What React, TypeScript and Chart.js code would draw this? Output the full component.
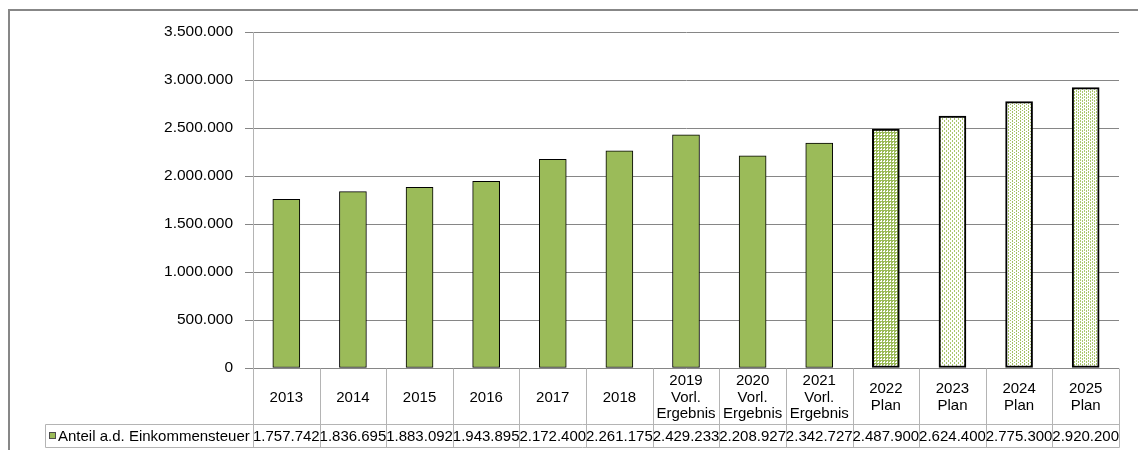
import React, { useEffect, useRef } from 'react';
import { Chart, registerables } from 'chart.js';

Chart.register(...registerables);

// ---- data ----
const categoryLabels: string[][] = [
  ['2013'],
  ['2014'],
  ['2015'],
  ['2016'],
  ['2017'],
  ['2018'],
  ['2019', 'Vorl.', 'Ergebnis'],
  ['2020', 'Vorl.', 'Ergebnis'],
  ['2021', 'Vorl.', 'Ergebnis'],
  ['2022', 'Plan'],
  ['2023', 'Plan'],
  ['2024', 'Plan'],
  ['2025', 'Plan'],
];
const seriesValues: number[] = [
  1757742, 1836695, 1883092, 1943895, 2172400, 2261175, 2429233, 2208927, 2342727,
  2487900, 2624400, 2775300, 2920200,
];
const seriesName = 'Anteil a.d. Einkommensteuer';
const yMin = 0;
const yMax = 3500000;
const yStep = 500000;
const barKinds: string[] = [
  'solid', 'solid', 'solid', 'solid', 'solid', 'solid', 'solid', 'solid', 'solid',
  'p2022', 'p2023', 'p2024', 'p2025',
];

const GREEN = '#9BBB59';
const FONT = 'Liberation Sans, Arial, sans-serif';

function fmt(n: number): string {
  const s = Math.round(n).toString();
  return s.replace(/\B(?=(\d{3})+(?!\d))/g, '.');
}

function makePattern(cells: number[][], w: number, h: number, bg: string, fg: string): CanvasPattern | string {
  const c = document.createElement('canvas');
  c.width = w;
  c.height = h;
  const ctx = c.getContext('2d');
  if (!ctx) return fg;
  ctx.fillStyle = bg;
  ctx.fillRect(0, 0, w, h);
  ctx.fillStyle = fg;
  for (const [x, y] of cells) ctx.fillRect(x, y, 1, 1);
  const p = ctx.createPattern(c, 'repeat');
  return p || fg;
}

const tablePlugin = {
  id: 'dataTable',
  afterDraw(chart: any) {
    const ctx: CanvasRenderingContext2D = chart.ctx;
    const xs = chart.scales.x;
    const area = chart.chartArea;
    const n = categoryLabels.length;
    const w = xs.getPixelForValue(1) - xs.getPixelForValue(0);
    const bounds: number[] = [];
    for (let i = 0; i <= n; i++) bounds.push(Math.round(xs.getPixelForValue(i) - w / 2) + 0.5);
    const top = Math.round(area.bottom) + 0.5;
    const row1Bottom = 424.5;
    const row2Bottom = 447.5;
    const legendLeft = 45.5;

    ctx.save();
    ctx.strokeStyle = '#b4b4b4';
    ctx.lineWidth = 1;
    ctx.beginPath();
    for (const b of bounds) {
      ctx.moveTo(b, top);
      ctx.lineTo(b, row2Bottom);
    }
    ctx.moveTo(legendLeft, row1Bottom);
    ctx.lineTo(bounds[n], row1Bottom);
    ctx.moveTo(legendLeft, row2Bottom);
    ctx.lineTo(bounds[n], row2Bottom);
    ctx.moveTo(legendLeft, row1Bottom);
    ctx.lineTo(legendLeft, row2Bottom);
    ctx.stroke();

    ctx.fillStyle = '#000';
    ctx.font = `15px ${FONT}`;
    ctx.textAlign = 'center';
    ctx.textBaseline = 'middle';
    const lh = 16.5;
    const midY = (top + row1Bottom) / 2;
    for (let i = 0; i < n; i++) {
      const cx = xs.getPixelForValue(i);
      const lines = categoryLabels[i];
      const y0 = midY - ((lines.length - 1) * lh) / 2;
      lines.forEach((l, k) => ctx.fillText(l, cx, y0 + k * lh + 1));
      ctx.fillText(fmt(seriesValues[i]), cx, (row1Bottom + row2Bottom) / 2 + 1);
    }

    // legend key
    ctx.fillStyle = GREEN;
    ctx.fillRect(49, 432, 7, 7);
    ctx.strokeStyle = '#4d4d4d';
    ctx.strokeRect(49.5, 432.5, 6, 6);
    ctx.fillStyle = '#000';
    ctx.textAlign = 'left';
    ctx.fillText(seriesName, 58, (row1Bottom + row2Bottom) / 2 + 1);
    ctx.restore();
  },
};

export default function App() {
  const ref = useRef<HTMLCanvasElement>(null);

  useEffect(() => {
    if (!ref.current) return;
    const patterns: Record<string, CanvasPattern | string> = {
      solid: GREEN,
      p2022: makePattern(
        [[2, 1], [1, 2], [2, 2]],
        3, 3, GREEN, '#ffffff',
      ),
      p2023: makePattern(
        [[0, 0], [0, 1], [2, 2], [2, 3]],
        4, 4, '#ffffff', '#a9c66e',
      ),
      p2024: makePattern(
        [[0, 0], [0, 1], [2, 2]],
        4, 3, '#ffffff', '#a3c264',
      ),
      p2025: makePattern(
        [[0, 0], [0, 1], [2, 1], [2, 2]],
        4, 3, '#ffffff', '#aac86f',
      ),
    };
    const bg = barKinds.map((k) => patterns[k]);
    const bw = barKinds.map((k) => (k === 'solid' ? 1 : 2));

    const chart = new Chart(ref.current, {
      type: 'bar',
      data: {
        labels: categoryLabels.map((l) => l.join(' ')),
        datasets: [
          {
            label: seriesName,
            data: seriesValues,
            backgroundColor: bg as any,
            borderColor: '#000',
            borderWidth: bw,
            borderSkipped: false,
            barThickness: 27,
          },
        ],
      },
      plugins: [tablePlugin],
      options: {
        animation: false,
        responsive: false,
        devicePixelRatio: 1,
        layout: { padding: { left: 0, right: 19, top: 32, bottom: 82 } },
        plugins: { legend: { display: false }, tooltip: { enabled: false } },
        scales: {
          x: { display: false },
          y: {
            min: yMin,
            max: yMax,
            afterFit: (s: any) => {
              s.width = 253;
            },
            ticks: {
              stepSize: yStep,
              padding: 12,
              color: '#000',
              font: { family: FONT, size: 15.5 },
              callback: (v: any) => fmt(Number(v)),
            },
            grid: { color: '#868686', tickLength: 8, drawTicks: true, tickColor: '#868686' },
            border: { display: true, color: '#b4b4b4' },
          },
        },
      },
    });
    return () => chart.destroy();
  }, []);

  return (
    <div style={{ position: 'absolute', left: 0, top: 0, width: 1138, height: 450, background: '#fff', overflow: 'hidden' }}>
      <canvas ref={ref} width={1138} height={450} style={{ display: 'block', width: 1138, height: 450 }} />
      <div
        style={{
          position: 'absolute',
          left: 8,
          top: 9,
          width: 1200,
          height: 500,
          borderLeft: '2px solid #878787',
          borderTop: '2px solid #878787',
          pointerEvents: 'none',
        }}
      />
    </div>
  );
}
